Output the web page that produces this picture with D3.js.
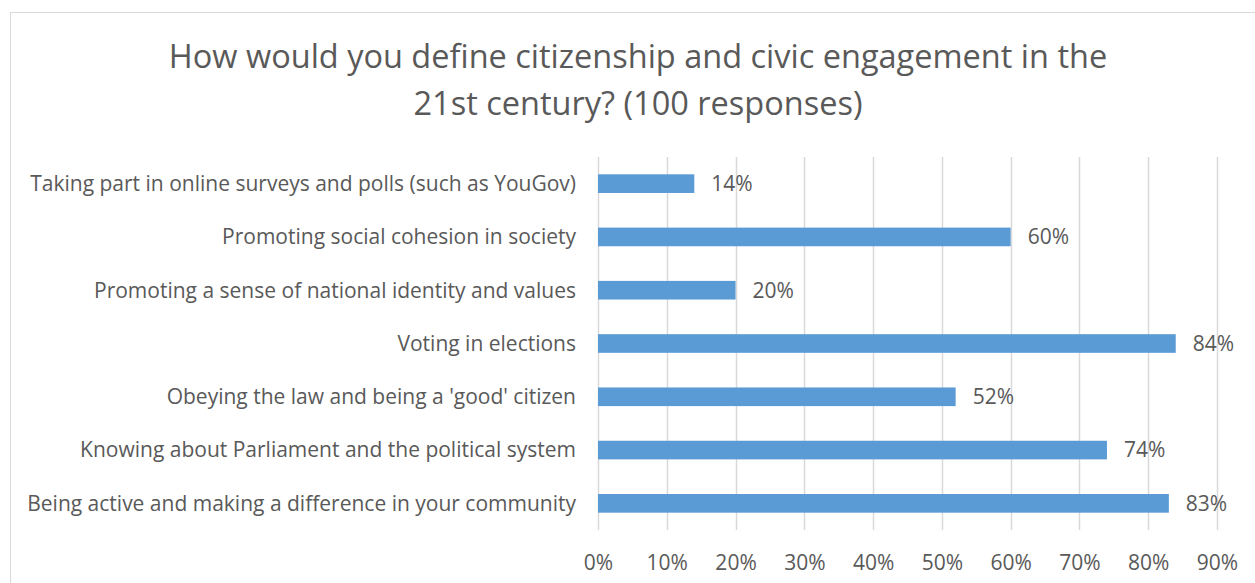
<!DOCTYPE html>
<html>
<head>
<meta charset="utf-8">
<script src="https://cdn.jsdelivr.net/npm/d3@7"></script>
<style>
  html, body { margin: 0; padding: 0; background: #fff; }
  svg { display: block; }
  text { font-family: "Open Sans", Lato, sans-serif; fill: #595959; }
</style>
</head>
<body>
<svg id="chart" width="1255" height="583"></svg>
<script>
// Survey answers, top to bottom as drawn
const categories = [
  "Taking part in online surveys and polls (such as YouGov)",
  "Promoting social cohesion in society",
  "Promoting a sense of national identity and values",
  "Voting in elections",
  "Obeying the law and being a 'good' citizen",
  "Knowing about Parliament and the political system",
  "Being active and making a difference in your community"
];
const values = [14, 60, 20, 84, 52, 74, 83];
const tickValues = [0, 10, 20, 30, 40, 50, 60, 70, 80, 90];
const titleLines = [
  "How would you define citizenship and civic engagement in the",
  "21st century? (100 responses)"
];

const svg = d3.select("#chart");

// chart frame
svg.append("rect")
  .attr("x", 10.5).attr("y", 12.5)
  .attr("width", 1250).attr("height", 600)
  .attr("fill", "#fff").attr("stroke", "#d9d9d9").attr("stroke-width", 1);

// title
svg.append("text")
  .attr("text-anchor", "middle")
  .style("font-size", "32.5px")
  .selectAll("tspan").data(titleLines).join("tspan")
  .attr("x", 638)
  .attr("y", (d, i) => 68 + i * 47)
  .text(d => d);

const plot = { left: 598, right: 1217, top: 157, bottom: 530 };

const x = d3.scaleLinear().domain([0, 90]).range([plot.left, plot.right]);
const y = d3.scaleBand().domain(categories)
  .range([plot.top, plot.bottom])
  .paddingInner(0.65).paddingOuter(0.325);

// vertical gridlines
svg.append("g")
  .selectAll("line").data(tickValues).join("line")
  .attr("x1", d => Math.round(x(d)) + 0.5).attr("x2", d => Math.round(x(d)) + 0.5)
  .attr("y1", plot.top).attr("y2", plot.bottom)
  .attr("stroke", "#d9d9d9").attr("stroke-width", 1.5);

const labelFont = "\"Open Sans\", Lato, sans-serif";

// x axis labels
const xAxis = d3.axisBottom(x).tickValues(tickValues)
  .tickFormat(d => d + "%").tickSize(0).tickPadding(0);
const gx = svg.append("g").attr("transform", `translate(0,${plot.bottom})`).call(xAxis);
gx.select(".domain").remove();
gx.selectAll("text")
  .attr("dy", null).attr("y", 40)
  .style("font-size", "21px").style("fill", "#595959")
  .style("font-family", labelFont);

// category labels
const yAxis = d3.axisLeft(y).tickSize(0).tickPadding(0);
const gy = svg.append("g").attr("transform", `translate(${plot.left - 22},0)`).call(yAxis);
gy.select(".domain").remove();
gy.selectAll("text")
  .attr("dy", "0.35em")
  .style("font-size", "21px").style("fill", "#595959")
  .style("font-family", labelFont);

// bars
svg.append("g")
  .selectAll("rect").data(values).join("rect")
  .attr("x", x(0))
  .attr("y", (d, i) => y(categories[i]))
  .attr("width", d => x(d) - x(0))
  .attr("height", y.bandwidth())
  .attr("fill", "#5b9bd5");

// value labels
svg.append("g")
  .selectAll("text").data(values).join("text")
  .attr("x", d => x(d) + 17)
  .attr("y", (d, i) => y(categories[i]) + y.bandwidth() / 2)
  .attr("dy", "0.35em")
  .style("font-size", "21px")
  .text(d => d + "%");
</script>
</body>
</html>
